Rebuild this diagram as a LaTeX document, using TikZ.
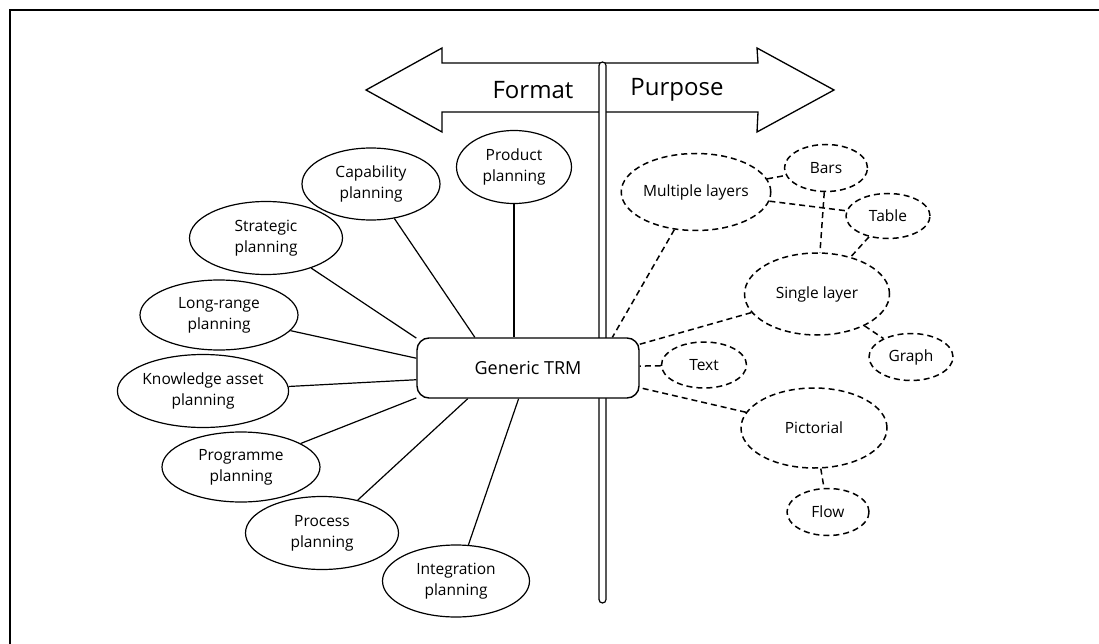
\documentclass[tikz,border=0pt]{standalone}
\usepackage{fontspec}
\setmainfont{Open Sans}
\usetikzlibrary{shapes.geometric,backgrounds}
\tikzset{
  solidell/.style={ellipse, draw, line width=1.2pt, fill=white, inner sep=0pt, align=center, font=\fontsize{15.5}{21}\selectfont},
  dashell/.style={ellipse, draw, line width=1.5pt, dash pattern=on 6pt off 4pt, fill=white, inner sep=0pt, align=center, font=\fontsize{15.5}{21}\selectfont},
  solidlink/.style={draw, line width=1.2pt},
  dashlink/.style={draw, line width=1.5pt, dash pattern=on 6pt off 4pt},
  bigarrow/.style={draw, line width=1.3pt, fill=white, line join=miter},
  postbar/.style={draw, line width=1.2pt, fill=white, rounded corners=3.5pt},
  hubbox/.style={draw, line width=1.4pt, fill=white, rounded corners=12pt, minimum width=222pt, minimum height=60pt, inner sep=0pt, font=\fontsize{18}{22}\selectfont},
  bigword/.style={inner sep=0pt, font=\fontsize{24}{28}\selectfont}
}
\begin{document}
\begin{tikzpicture}[x=1pt,y=-1pt]
\useasboundingbox (0,0) rectangle (1099,644);
% frame
\draw[line width=1.3pt] (10,644) -- (10,10) -- (1099,10);
% double-headed arrow
\draw[bigarrow] (366,90) -- (442,48) -- (442,63) -- (758,63) -- (757,48) -- (834,90) -- (757,132) -- (758,112) -- (442,112) -- (442,132) -- cycle;
\node[bigword] (fmt) at (533,90) {Format};
\node[bigword] (purp) at (677,90) {Purpose};
% post
\draw[postbar] (599,62) rectangle (606,603);
% hub
\node[hubbox] (trm) at (528,368) {Generic TRM};
% left ellipses
\node[solidell, minimum width=115pt, minimum height=73pt] (prod) at (514,167) {Product\\planning};
\node[solidell, minimum width=138pt, minimum height=72pt] (cap) at (371,184) {Capability\\planning};
\node[solidell, minimum width=153pt, minimum height=73pt] (strat) at (266,238) {Strategic\\planning};
\node[solidell, minimum width=158pt, minimum height=70pt] (long) at (219,315) {Long-range\\planning};
\node[solidell, minimum width=170pt, minimum height=73pt] (know) at (203,391) {Knowledge asset\\planning};
\node[solidell, minimum width=158pt, minimum height=70pt] (prog) at (241,467) {Programme\\planning};
\node[solidell, minimum width=153pt, minimum height=73pt] (proc) at (322,533) {Process\\planning};
\node[solidell, minimum width=147pt, minimum height=72pt] (integ) at (456,581) {Integration\\planning};
% right ellipses
\node[dashell, minimum width=145pt, minimum height=77pt] (ml) at (696,192) {Multiple layers};
\node[dashell, minimum width=83pt, minimum height=47pt] (bars) at (826,168) {Bars};
\node[dashell, minimum width=84pt, minimum height=45pt] (tab) at (888,216) {Table};
\node[dashell, minimum width=145pt, minimum height=82pt] (sl) at (817,294) {Single layer};
\node[dashell, minimum width=84pt, minimum height=47pt] (graph) at (911,357) {Graph};
\node[dashell, minimum width=85pt, minimum height=46pt] (txt) at (704,365) {Text};
\node[dashell, minimum width=146pt, minimum height=80pt] (pic) at (814,428) {Pictorial};
\node[dashell, minimum width=82pt, minimum height=47pt] (flow) at (828,512) {Flow};
\begin{pgfonlayer}{background}
% solid links
\draw[solidlink] (prod) -- (prod |- trm.north);
\draw[solidlink] (cap) -- (trm.150);
\draw[solidlink] (strat) -- (trm.165);
\draw[solidlink] (long) -- (trm.175);
\draw[solidlink] (know) -- (trm.186);
\draw[solidlink] (prog) -- (trm.195);
\draw[solidlink] (proc) -- (trm.207);
\draw[solidlink] (integ) -- (trm.253);
% dashed links
\draw[dashlink] (ml) -- (trm.20);
\draw[dashlink] (sl) -- (trm.12);
\draw[dashlink] (txt) -- (trm);
\draw[dashlink] (pic) -- (trm.-10);
\draw[dashlink] (ml) -- (bars);
\draw[dashlink] (ml) -- (tab);
\draw[dashlink] (bars) -- (sl);
\draw[dashlink] (tab) -- (sl);
\draw[dashlink] (sl) -- (graph);
\draw[dashlink] (pic) -- (flow);
\end{pgfonlayer}
\end{tikzpicture}
\end{document}
